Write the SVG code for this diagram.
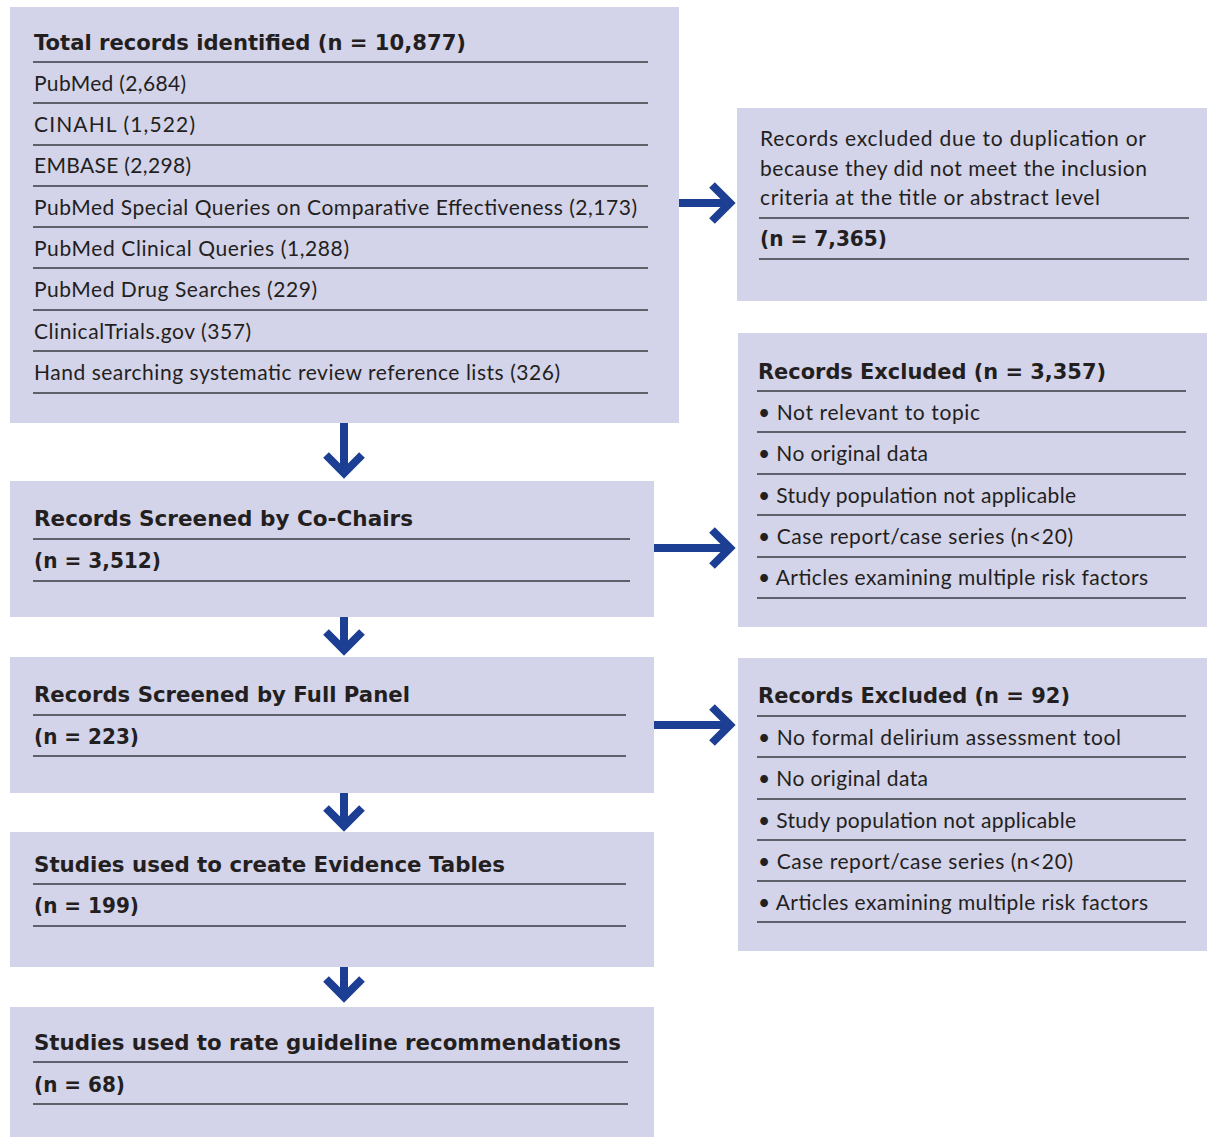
<svg xmlns="http://www.w3.org/2000/svg" width="1207" height="1137" viewBox="0 0 1207 1137">
<style>
.box{fill:#d3d3e9;}
.t{font-family:Lato,"Open Sans","Liberation Sans",sans-serif;font-size:21px;fill:#231f20;}
.b{font-family:"DejaVu Sans","Open Sans","Liberation Sans",sans-serif;font-size:22px;font-weight:bold;fill:#231f20;}
.sep{stroke:#3a3a3f;stroke-width:1.5;}
.arr{stroke:#1c3f94;stroke-width:8;fill:none;}
</style>
<defs>
<marker id="chev" markerUnits="userSpaceOnUse" markerWidth="40" markerHeight="50" refX="0" refY="0" orient="auto" overflow="visible" viewBox="-30 -25 40 50">
<polyline points="-18,-18 0,0 -18,18" fill="none" stroke="#1c3f94" stroke-width="8" stroke-linejoin="miter"/>
</marker>
</defs>
<rect width="1207" height="1137" fill="#ffffff"/>

<g id="connectors">
<line class="arr" x1="679" y1="203" x2="730" y2="203" marker-end="url(#chev)"/>
<line class="arr" x1="654" y1="548" x2="730" y2="548" marker-end="url(#chev)"/>
<line class="arr" x1="654" y1="725" x2="730" y2="725" marker-end="url(#chev)"/>
<line class="arr" x1="344" y1="423" x2="344" y2="473" marker-end="url(#chev)"/>
<line class="arr" x1="344" y1="617" x2="344" y2="650" marker-end="url(#chev)"/>
<line class="arr" x1="344" y1="793" x2="344" y2="826" marker-end="url(#chev)"/>
<line class="arr" x1="344" y1="967" x2="344" y2="997" marker-end="url(#chev)"/>
</g>

<g id="total">
<rect class="box" x="10" y="7" width="669" height="416"/>
<text class="b" x="34" y="50" textLength="432" lengthAdjust="spacingAndGlyphs">Total records identified (n = 10,877)</text>
<line class="sep" x1="33" y1="62" x2="648" y2="62"/>
<text class="t" x="34" y="91" textLength="152">PubMed (2,684)</text>
<line class="sep" x1="33" y1="103" x2="648" y2="103"/>
<text class="t" x="34" y="132" textLength="161">CINAHL (1,522)</text>
<line class="sep" x1="33" y1="145" x2="648" y2="145"/>
<text class="t" x="34" y="173" textLength="157">EMBASE (2,298)</text>
<line class="sep" x1="33" y1="186" x2="648" y2="186"/>
<text class="t" x="34" y="215" textLength="603">PubMed Special Queries on Comparative Effectiveness (2,173)</text>
<line class="sep" x1="33" y1="227" x2="648" y2="227"/>
<text class="t" x="34" y="256" textLength="315">PubMed Clinical Queries (1,288)</text>
<line class="sep" x1="33" y1="268" x2="648" y2="268"/>
<text class="t" x="34" y="297" textLength="283">PubMed Drug Searches (229)</text>
<line class="sep" x1="33" y1="310" x2="648" y2="310"/>
<text class="t" x="34" y="339" textLength="217">ClinicalTrials.gov (357)</text>
<line class="sep" x1="33" y1="351" x2="648" y2="351"/>
<text class="t" x="34" y="380" textLength="526">Hand searching systematic review reference lists (326)</text>
<line class="sep" x1="33" y1="393" x2="648" y2="393"/>
</g>

<g id="cochairs">
<rect class="box" x="10" y="481" width="644" height="136"/>
<text class="b" x="34" y="526" textLength="379" lengthAdjust="spacingAndGlyphs">Records Screened by Co-Chairs</text>
<line class="sep" x1="33" y1="539" x2="630" y2="539"/>
<text class="b" x="34" y="568" textLength="127" lengthAdjust="spacingAndGlyphs">(n = 3,512)</text>
<line class="sep" x1="33" y1="581" x2="630" y2="581"/>
</g>

<g id="fullpanel">
<rect class="box" x="10" y="657" width="644" height="136"/>
<text class="b" x="34" y="702" textLength="376" lengthAdjust="spacingAndGlyphs">Records Screened by Full Panel</text>
<line class="sep" x1="33" y1="715" x2="626" y2="715"/>
<text class="b" x="34" y="744" textLength="105" lengthAdjust="spacingAndGlyphs">(n = 223)</text>
<line class="sep" x1="33" y1="756" x2="626" y2="756"/>
</g>

<g id="evidence">
<rect class="box" x="10" y="832" width="644" height="135"/>
<text class="b" x="34" y="872" textLength="471" lengthAdjust="spacingAndGlyphs">Studies used to create Evidence Tables</text>
<line class="sep" x1="33" y1="884" x2="626" y2="884"/>
<text class="b" x="34" y="913" textLength="105" lengthAdjust="spacingAndGlyphs">(n = 199)</text>
<line class="sep" x1="33" y1="926" x2="626" y2="926"/>
</g>

<g id="rate">
<rect class="box" x="10" y="1007" width="644" height="130"/>
<text class="b" x="34" y="1050" textLength="587" lengthAdjust="spacingAndGlyphs">Studies used to rate guideline recommendations</text>
<line class="sep" x1="33" y1="1062" x2="628" y2="1062"/>
<text class="b" x="34" y="1092" textLength="91" lengthAdjust="spacingAndGlyphs">(n = 68)</text>
<line class="sep" x1="33" y1="1104" x2="628" y2="1104"/>
</g>

<g id="excl1">
<rect class="box" x="737" y="108" width="470" height="193"/>
<text class="t" x="760" y="146" textLength="386">Records excluded due to duplication or</text>
<text class="t" x="760" y="176" textLength="387">because they did not meet the inclusion</text>
<text class="t" x="760" y="205" textLength="340">criteria at the title or abstract level</text>
<line class="sep" x1="759" y1="218" x2="1189" y2="218"/>
<text class="b" x="760" y="246" textLength="127" lengthAdjust="spacingAndGlyphs">(n = 7,365)</text>
<line class="sep" x1="759" y1="259" x2="1189" y2="259"/>
</g>

<g id="excl2">
<rect class="box" x="738" y="333" width="469" height="294"/>
<text class="b" x="758" y="379" textLength="348" lengthAdjust="spacingAndGlyphs">Records Excluded (n = 3,357)</text>
<line class="sep" x1="757" y1="391" x2="1186" y2="391"/>
<text class="t" x="758" y="420" textLength="222">• Not relevant to topic</text>
<line class="sep" x1="757" y1="432" x2="1186" y2="432"/>
<text class="t" x="758" y="461" textLength="170">• No original data</text>
<line class="sep" x1="757" y1="474" x2="1186" y2="474"/>
<text class="t" x="758" y="503" textLength="318">• Study population not applicable</text>
<line class="sep" x1="757" y1="515" x2="1186" y2="515"/>
<text class="t" x="758" y="544" textLength="315">• Case report/case series (n&lt;20)</text>
<line class="sep" x1="757" y1="557" x2="1186" y2="557"/>
<text class="t" x="758" y="585" textLength="390">• Articles examining multiple risk factors</text>
<line class="sep" x1="757" y1="598" x2="1186" y2="598"/>
</g>

<g id="excl3">
<rect class="box" x="738" y="658" width="469" height="293"/>
<text class="b" x="758" y="703" textLength="312" lengthAdjust="spacingAndGlyphs">Records Excluded (n = 92)</text>
<line class="sep" x1="757" y1="716" x2="1186" y2="716"/>
<text class="t" x="758" y="745" textLength="363">• No formal delirium assessment tool</text>
<line class="sep" x1="757" y1="757" x2="1186" y2="757"/>
<text class="t" x="758" y="786" textLength="170">• No original data</text>
<line class="sep" x1="757" y1="799" x2="1186" y2="799"/>
<text class="t" x="758" y="828" textLength="318">• Study population not applicable</text>
<line class="sep" x1="757" y1="840" x2="1186" y2="840"/>
<text class="t" x="758" y="869" textLength="315">• Case report/case series (n&lt;20)</text>
<line class="sep" x1="757" y1="881" x2="1186" y2="881"/>
<text class="t" x="758" y="910" textLength="390">• Articles examining multiple risk factors</text>
<line class="sep" x1="757" y1="922" x2="1186" y2="922"/>
</g>
</svg>
